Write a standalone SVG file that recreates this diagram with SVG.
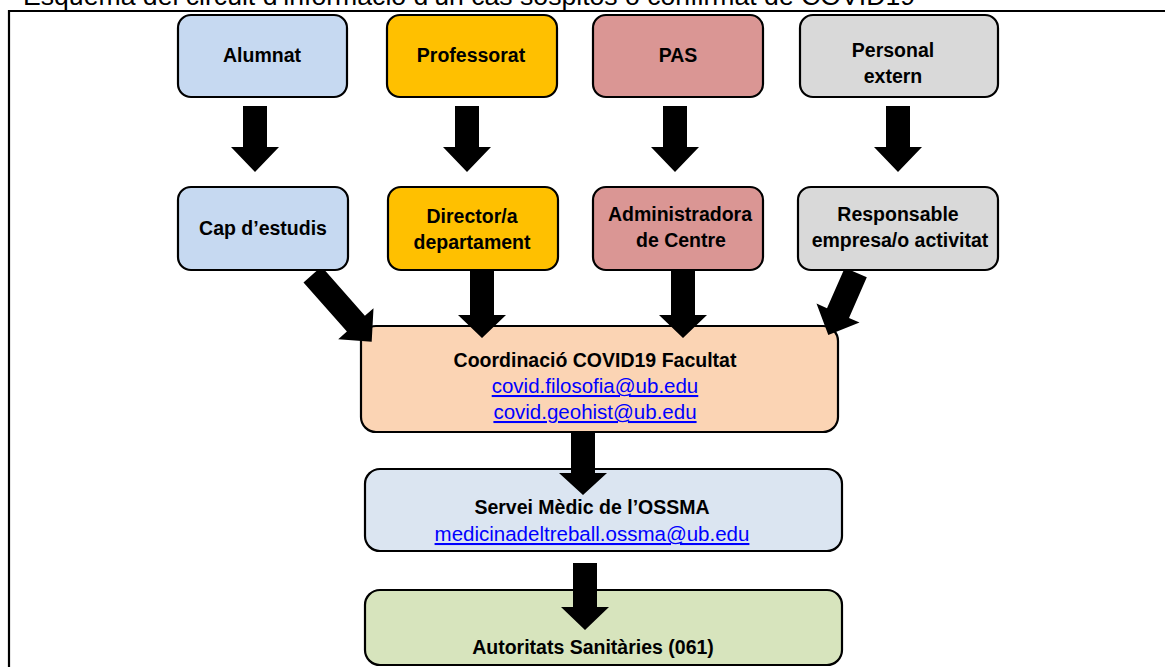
<svg xmlns="http://www.w3.org/2000/svg" width="1165" height="667" viewBox="0 0 1165 667">
<style>
.box{stroke:#000;stroke-width:2.2}
.t{font-family:"Liberation Sans",Arial,sans-serif;font-weight:bold;font-size:19.5px;fill:#000;text-anchor:middle}
.lk{font-family:"Liberation Sans",Arial,sans-serif;font-size:20.5px;fill:#0000FF;text-anchor:middle;text-decoration:underline}
.arrow{fill:#000;stroke:none}
</style>
<rect x="0" y="0" width="1165" height="667" fill="#fff"/>
<text x="23" y="5" font-family="Liberation Sans, Arial, sans-serif" font-size="26" fill="#000" textLength="892" lengthAdjust="spacingAndGlyphs">Esquema del circuit d’informació d’un cas sospitós o confirmat de COVID19</text>
<g id="frame" fill="none" stroke="#000" stroke-width="2.2">
<line x1="8" y1="11" x2="1165" y2="11"/>
<line x1="9" y1="10" x2="9" y2="667"/>
</g>
<g id="coordinacio">
<rect class="box" x="361" y="326" width="477" height="106" rx="15" fill="#FBD4B4"/>
<text class="t" x="595" y="367">Coordinació COVID19 Facultat</text>
<text class="lk" x="595" y="393">covid.filosofia@ub.edu</text>
<text class="lk" x="595" y="419">covid.geohist@ub.edu</text>
</g>
<g id="servei">
<rect class="box" x="365" y="469" width="477" height="82" rx="15" fill="#DBE5F1"/>
<text class="t" x="592" y="514">Servei Mèdic de l’OSSMA</text>
<text class="lk" x="592" y="541">medicinadeltreball.ossma@ub.edu</text>
</g>
<g id="autoritats">
<rect class="box" x="365" y="590" width="477" height="75" rx="15" fill="#D7E4BD"/>
<text class="t" x="593" y="654">Autoritats Sanitàries (061)</text>
</g>
<g id="connectors">
<polygon class="arrow" points="243,106 267,106 267,147 279,147 255,172 231,147 243,147"/>
<polygon class="arrow" points="455,106 479,106 479,147 491,147 467,172 443,147 455,147"/>
<polygon class="arrow" points="663,106 687,106 687,147 699,147 675,172 651,147 663,147"/>
<polygon class="arrow" points="886,106 910,106 910,147 922,147 898,172 874,147 886,147"/>
<polygon class="arrow" points="303.5,282.4 346.9,331.6 338.2,339.2 371.7,341.7 373.5,308.2 364.9,315.8 321.5,266.6"/>
<polygon class="arrow" points="470,270 494,270 494,315 506,315 482,338 458,315 470,315"/>
<polygon class="arrow" points="671,270 695,270 695,315 707,315 683,338 659,315 671,315"/>
<polygon class="arrow" points="844.8,267.7 827,308.2 816.5,303.6 828.3,335 859.5,322.5 849,317.9 866.8,277.3"/>
<polygon class="arrow" points="571,432 595,432 595,473 607,473 583,495 559,473 571,473"/>
<polygon class="arrow" points="573,563 597,563 597,607 609,607 585,630 561,607 573,607"/>
</g>
<g id="alumnat">
<rect class="box" x="178" y="15" width="169" height="82" rx="13" fill="#C6D9F1"/>
<text class="t" x="262" y="62">Alumnat</text>
</g>
<g id="professorat">
<rect class="box" x="387" y="15" width="170" height="82" rx="13" fill="#FFC000"/>
<text class="t" x="471" y="62">Professorat</text>
</g>
<g id="pas">
<rect class="box" x="593" y="15" width="170" height="82" rx="13" fill="#DA9694"/>
<text class="t" x="678" y="62">PAS</text>
</g>
<g id="personal-extern">
<rect class="box" x="800" y="15" width="198" height="82" rx="13" fill="#D9D9D9"/>
<text class="t" x="893" y="57">Personal</text>
<text class="t" x="893" y="83">extern</text>
</g>
<g id="cap-estudis">
<rect class="box" x="178" y="187" width="170" height="83" rx="13" fill="#C6D9F1"/>
<text class="t" x="263" y="235">Cap d’estudis</text>
</g>
<g id="director">
<rect class="box" x="388" y="187" width="170" height="83" rx="13" fill="#FFC000"/>
<text class="t" x="472" y="223">Director/a</text>
<text class="t" x="472" y="249">departament</text>
</g>
<g id="administradora">
<rect class="box" x="593" y="187" width="170" height="83" rx="13" fill="#DA9694"/>
<text class="t" x="680" y="221">Administradora</text>
<text class="t" x="681" y="247">de Centre</text>
</g>
<g id="responsable">
<rect class="box" x="798" y="187" width="200" height="83" rx="13" fill="#D9D9D9"/>
<text class="t" x="898" y="221">Responsable</text>
<text class="t" x="900" y="247">empresa/o activitat</text>
</g>
</svg>
